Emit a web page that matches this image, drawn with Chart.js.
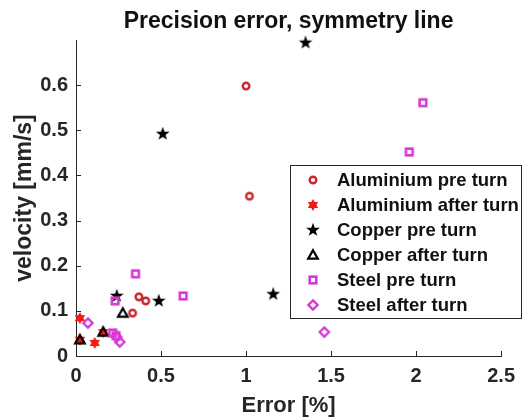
<!DOCTYPE html>
<html lang="en">
<head>
<meta charset="utf-8">
<title>Precision error, symmetry line</title>
<script src="https://cdn.jsdelivr.net/npm/chart.js@4.4.1/dist/chart.umd.min.js"></script>
<style>
  body { margin: 0; background: #fff; }
</style>
</head>
<body>
<canvas id="myChart" width="523" height="419"></canvas>

<script>

// values
var alPreX   = [1.00, 1.02, 0.37, 0.41, 0.333];
var alPreY   = [0.598, 0.354, 0.131, 0.122, 0.095];
var alAfterX = [0.023, 0.11, 0.023, 0.16];
var alAfterY = [0.084, 0.029, 0.036, 0.053];
var cuPreX   = [0.51, 1.35, 0.24, 0.487, 1.16];
var cuPreY   = [0.492, 0.694, 0.133, 0.122, 0.137];
var cuAfterX = [0.023, 0.16, 0.275];
var cuAfterY = [0.036, 0.053, 0.095];
var stPreX   = [2.04, 1.96, 0.35, 0.63, 0.23, 0.216, 0.235];
var stPreY   = [0.561, 0.452, 0.182, 0.133, 0.122, 0.051, 0.045];
var stAfterX = [1.46, 0.07, 0.257, 0.24];
var stAfterY = [0.053, 0.073, 0.031, 0.042];

var seriesNames = ['Aluminium pre turn', 'Aluminium after turn', 'Copper pre turn',
                   'Copper after turn', 'Steel pre turn', 'Steel after turn'];

var xTicks = [0, 0.5, 1, 1.5, 2, 2.5];
var yTicks = [0, 0.1, 0.2, 0.3, 0.4, 0.5, 0.6];

var FONT = '"Liberation Sans", Arial, Helvetica, sans-serif';
var AXIS = '#262626';

function toPoints(xs, ys){
    var out = [];
    for(var i=0; i<xs.length; i++){ out.push({x: xs[i], y: ys[i]}); }
    return out;
}

// little canvases used as point styles (matlab like markers)
function starPath(g, n, rOut, rIn){
    g.beginPath();
    for(var i=0; i<2*n; i++){
        var r = (i % 2 == 0) ? rOut : rIn;
        var a = -Math.PI/2 + i*Math.PI/n;
        if(i==0) g.moveTo(r*Math.cos(a), r*Math.sin(a));
        else g.lineTo(r*Math.cos(a), r*Math.sin(a));
    }
    g.closePath();
}

function marker(kind, color, size){
    var c = document.createElement('canvas');
    c.width = size; c.height = size;
    var g = c.getContext('2d');
    g.translate(size/2, size/2);
    g.strokeStyle = color;
    g.fillStyle = color;
    g.lineJoin = 'miter';
    if(kind == 'circle'){
        g.lineWidth = 2.4;
        g.beginPath(); g.arc(0, 0, 3.3, 0, 2*Math.PI); g.stroke();
    }
    else if(kind == 'hexagram'){
        starPath(g, 6, 6, 3.4); g.fill();
    }
    else if(kind == 'star'){
        starPath(g, 5, 7.2, 2.9); g.fill();
    }
    else if(kind == 'triangle'){
        g.lineWidth = 2.2;
        g.beginPath(); g.moveTo(0, -4.8); g.lineTo(4.8, 3.6); g.lineTo(-4.8, 3.6); g.closePath(); g.stroke();
    }
    else if(kind == 'square'){
        g.lineWidth = 2.6;
        g.strokeRect(-3.3, -3.3, 6.6, 6.6);
    }
    else if(kind == 'diamond'){
        g.lineWidth = 2.4;
        g.beginPath(); g.moveTo(0, -4.6); g.lineTo(4.6, 0); g.lineTo(0, 4.6); g.lineTo(-4.6, 0); g.closePath(); g.stroke();
    }
    return c;
}

var RED = '#c8262b', RED2 = '#f01818', BLACK = '#000000', MAG = '#d63ad6';

var styles = [
    marker('circle',   RED,   12),
    marker('hexagram', RED2,  14),
    marker('star',     BLACK, 16),
    marker('triangle', BLACK, 14),
    marker('square',   MAG,   12),
    marker('diamond',  MAG,   14)
];

var xsList = [alPreX, alAfterX, cuPreX, cuAfterX, stPreX, stAfterX];
var ysList = [alPreY, alAfterY, cuPreY, cuAfterY, stPreY, stAfterY];

var datasets = [];
for(var i=0; i<seriesNames.length; i++){
    datasets.push({
        label: seriesNames[i],
        data: toPoints(xsList[i], ysList[i]),
        pointStyle: styles[i],
        order: seriesNames.length - i,   // later series on top, like matlab
        clip: false,
        showLine: false
    });
}

// legend box inside the axes, top right
var boxLegend = {
    id: 'boxLegend',
    afterDraw: function(chart){
        var ctx = chart.ctx;
        ctx.save();
        ctx.fillStyle = '#ffffff';
        ctx.fillRect(290.5, 165.5, 231, 153);
        ctx.strokeStyle = AXIS;
        ctx.lineWidth = 1;
        ctx.strokeRect(290.5, 165.5, 231, 153);
        ctx.font = 'bold 18.5px ' + FONT;
        ctx.textBaseline = 'middle';
        ctx.fillStyle = '#111';
        chart.data.datasets.forEach(function(ds, i){
            var y = 180 + 25*i;
            var img = ds.pointStyle;
            ctx.drawImage(img, Math.round(313 - img.width/2), Math.round(y - img.height/2));
            ctx.fillText(ds.label, 337, y + 1);
        });
        ctx.restore();
    }
};

// matlab style ticks pointing into the axes
var inTicks = {
    id: 'inTicks',
    afterDraw: function(chart){
        var ctx = chart.ctx, xs = chart.scales.x, ys = chart.scales.y;
        ctx.save();
        ctx.strokeStyle = AXIS;
        ctx.lineWidth = 1;
        ctx.beginPath();
        xTicks.forEach(function(v){
            var px = Math.round(xs.getPixelForValue(v)) + 0.5;
            ctx.moveTo(px, ys.bottom); ctx.lineTo(px, ys.bottom - 5);
        });
        yTicks.forEach(function(v){
            var py = Math.round(ys.getPixelForValue(v)) + 0.5;
            ctx.moveTo(xs.left, py); ctx.lineTo(xs.left + 5, py);
        });
        ctx.stroke();
        ctx.restore();
    }
};

var ctx = document.getElementById('myChart');
var myChart = new Chart(ctx, {
    type: 'scatter',
    data: { datasets: datasets },
    plugins: [inTicks, boxLegend],
    options: {
        responsive: false,
        animation: false,
        layout: { padding: { left: 0, right: 20, top: 0, bottom: 0 } },
        elements: { point: { radius: 5, hoverRadius: 5 } },
        plugins: {
            legend: { display: false },
            tooltip: { enabled: false },
            title: {
                display: true,
                fullSize: false,
                text: 'Precision error, symmetry line',
                color: '#111',
                font: { family: FONT, size: 23, weight: 'bold' },
                padding: { top: 8, bottom: 4.4 }
            }
        },
        scales: {
            x: {
                type: 'linear',
                min: 0, max: 2.5,
                afterBuildTicks: function(s){ s.ticks = xTicks.map(function(v){ return {value: v}; }); },
                afterFit: function(s){ s.height = 63; },
                ticks: {
                    color: AXIS,
                    padding: 8,
                    font: { family: FONT, size: 20, weight: 'bold' },
                    callback: function(v){ return String(v); }
                },
                grid: { drawOnChartArea: false, drawTicks: false, color: AXIS },
                border: { color: AXIS, width: 1 },
                title: {
                    display: true,
                    text: 'Error [%]',
                    color: AXIS,
                    font: { family: FONT, size: 22, weight: 'bold' },
                    padding: { top: 0, bottom: 0 }
                }
            },
            y: {
                type: 'linear',
                min: 0, max: 0.7,
                afterBuildTicks: function(s){ s.ticks = yTicks.map(function(v){ return {value: v}; }); },
                afterFit: function(s){ s.width = 76; },
                ticks: {
                    color: AXIS,
                    padding: 8,
                    font: { family: FONT, size: 20, weight: 'bold' },
                    callback: function(v){ return String(Number(v.toFixed(1))); }
                },
                grid: { drawOnChartArea: false, drawTicks: false, color: AXIS },
                border: { color: AXIS, width: 1 },
                title: {
                    display: true,
                    text: 'velocity [mm/s]',
                    color: AXIS,
                    font: { family: FONT, size: 23, weight: 'bold' },
                    padding: { top: 11, bottom: 0 }
                }
            }
        }
    }
});

</script>
</body>
</html>
